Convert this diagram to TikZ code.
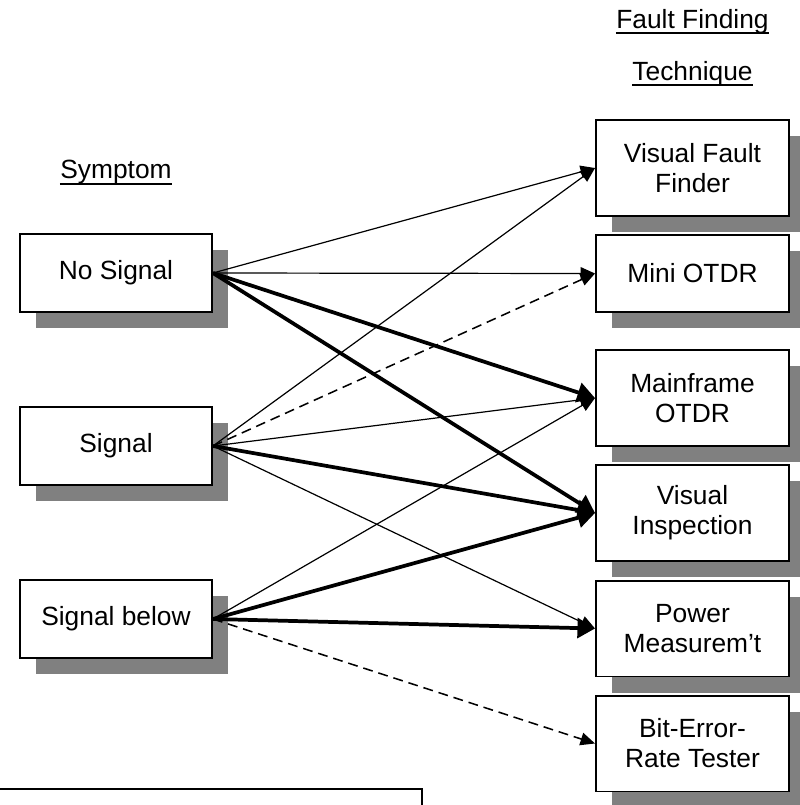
\documentclass[tikz,border=0pt]{standalone}
\usepackage{fontspec}
\setmainfont{Liberation Sans}
\usetikzlibrary{arrows.meta,shadows}
\definecolor{shadowgray}{HTML}{808080}

\begin{document}
\begin{tikzpicture}[x=0.016cm, y=-0.016cm, font=\fontsize{12}{13.7}\selectfont,
		heading/.style={anchor=base, inner sep=0pt},
		underl/.style={line width=0.9pt},
		box/.style={draw, line width=0.9pt, fill=white, align=center, inner sep=0pt,
			drop shadow={shadow xshift=7.3pt, shadow yshift=-7.3pt, fill=shadowgray, opacity=1}},
		symbox/.style={box, minimum width=87.4pt, minimum height=35.5pt},
		techbox/.style={box, minimum width=87.9pt, minimum height=43.7pt},
		thinarr/.style={line width=0.55pt, -{Triangle[length=6.6pt, width=5.8pt]}},
		thickarr/.style={line width=1.7pt, -{Triangle[length=8pt, width=9pt]}},
		dasharr/.style={line width=0.7pt, dash pattern=on 4.5pt off 2.7pt, -{Triangle[length=6.6pt, width=5.8pt]}}]
		\useasboundingbox (0,0) rectangle (800,805);
		\clip (0,0) rectangle (800,805);
		\node[heading] (symhead) at (116,178) {Symptom};
		\node[heading] (ffhead) at (692.5,28) {Fault Finding};
		\node[heading] (tqhead) at (692.5,80) {Technique};
		\draw[underl] ([yshift=-2.6pt]symhead.base west) -- ([yshift=-2.6pt]symhead.base east);
		\draw[underl] ([yshift=-2.2pt]ffhead.base west) -- ([yshift=-2.2pt]ffhead.base east);
		\draw[underl] ([yshift=-2.4pt]tqhead.base west) -- ([yshift=-2.4pt]tqhead.base east);
		\node[symbox] (nosig) at (116,273) {No Signal};
		\node[symbox] (sig) at (116,446) {Signal};
		\node[symbox] (sigbelow) at (116,619) {Signal below};
		\node[techbox] (vff) at (692.5,168) {Visual Fault\\Finder};
		\node[techbox, minimum height=35.1pt] (mini) at (692.5,273.5) {Mini OTDR};
		\node[techbox] (mainf) at (692.5,398) {Mainframe\\OTDR};
		\node[techbox] (visinsp) at (692.5,513) {Visual\\Inspection};
		\node[techbox] (power) at (692.5,628.5) {Power\\Measurem’t};
		\node[techbox] (ber) at (692.5,743.5) {Bit-Error-\\Rate Tester};
		\draw[thinarr] (nosig.east) -- (vff.west);
		\draw[thinarr] (nosig.east) -- (mini.west);
		\draw[thickarr] (nosig.east) -- (mainf.west);
		\draw[thickarr] (nosig.east) -- (visinsp.west);
		\draw[thinarr] (sig.east) -- (vff.west);
		\draw[dasharr] (sig.east) -- (mini.west);
		\draw[thinarr] (sig.east) -- (mainf.west);
		\draw[thickarr] (sig.east) -- (visinsp.west);
		\draw[thinarr] (sig.east) -- (power.west);
		\draw[thinarr] (sigbelow.east) -- (mainf.west);
		\draw[thickarr] (sigbelow.east) -- (visinsp.west);
		\draw[thickarr] (sigbelow.east) -- (power.west);
		\draw[dasharr] (sigbelow.east) -- (ber.west);
		\draw[line width=0.9pt] (-20,789) -| (422,830);
	\end{tikzpicture}
\end{document}
